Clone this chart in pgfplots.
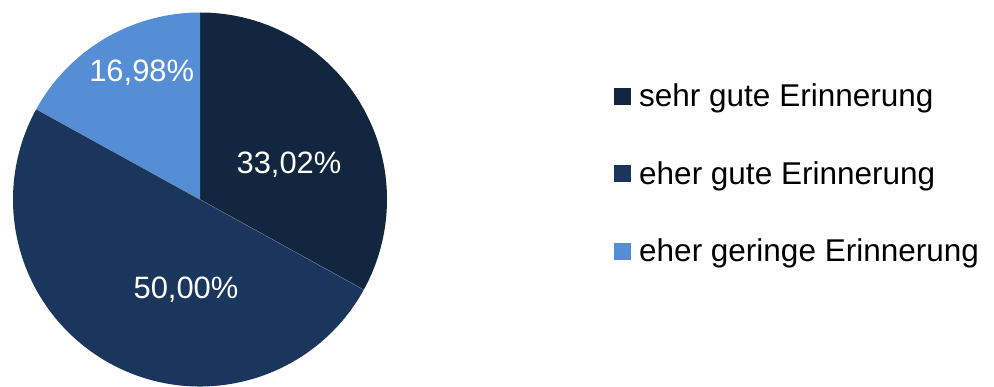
\documentclass[border=0pt]{standalone}
\usepackage{pgfplots}
\pgfplotsset{compat=1.18}
\usepackage{fontspec}
\setmainfont{Liberation Sans}
\definecolor{cA}{RGB}{18,38,63}
\definecolor{cB}{RGB}{26,54,93}
\definecolor{cC}{RGB}{85,142,213}
\begin{document}
\begin{tikzpicture}
% data (percent)
\def\vA{33.02}
\def\vB{50.00}
\def\vC{16.98}
\pgfmathsetmacro{\aS}{90}
\pgfmathsetmacro{\aA}{90-3.6*\vA}
\pgfmathsetmacro{\aB}{\aA-3.6*\vB}
\pgfmathsetmacro{\aC}{\aB-3.6*\vC}
\begin{axis}[
  at={(0,0)}, anchor=south west,
  width=994bp, height=387bp, scale only axis,
  xmin=0, xmax=994, ymin=0, ymax=387,
  hide axis, clip=false,
]
\fill[cA] (axis cs:200,187.5) -- ++(\aS:187bp) arc[start angle=\aS, end angle=\aA, radius=187bp] -- cycle;
\fill[cB] (axis cs:200,187.5) -- ++(\aA:187bp) arc[start angle=\aA, end angle=\aB, radius=187bp] -- cycle;
\fill[cC] (axis cs:200,187.5) -- ++(\aB:187bp) arc[start angle=\aB, end angle=\aC, radius=187bp] -- cycle;
\draw[white!40!cB, line width=0.3bp] (axis cs:200,187.5) -- ++(\aA:187bp);
\draw[white!40!cB, line width=0.3bp] (axis cs:200,187.5) -- ++(\aB:187bp);
\begin{scope}[every node/.style={text=white, inner sep=0pt, font=\fontsize{30.9bp}{34bp}\selectfont}]
\node[anchor=base] at (axis cs:289,213) {33,02\%};
\node[anchor=base] at (axis cs:186,89) {50,00\%};
\node[anchor=base] at (axis cs:141.7,305) {16,98\%};
\end{scope}
% legend
\begin{scope}[every node/.style={text=black, inner sep=0pt, anchor=base west, font=\fontsize{31.5bp}{34bp}\selectfont}]
\fill[cA] (axis cs:614,282) rectangle (axis cs:631,299);
\node at (axis cs:639,280.3) {sehr gute Erinnerung};
\fill[cB] (axis cs:614,204.5) rectangle (axis cs:631,221.5);
\node at (axis cs:639,202.8) {eher gute Erinnerung};
\fill[cC] (axis cs:614,126.5) rectangle (axis cs:631,143.5);
\node at (axis cs:639,125.3) {eher geringe Erinnerung};
\end{scope}
\end{axis}
\pgfresetboundingbox
\useasboundingbox (0,0) rectangle (994bp,387bp);
\end{tikzpicture}
\end{document}
